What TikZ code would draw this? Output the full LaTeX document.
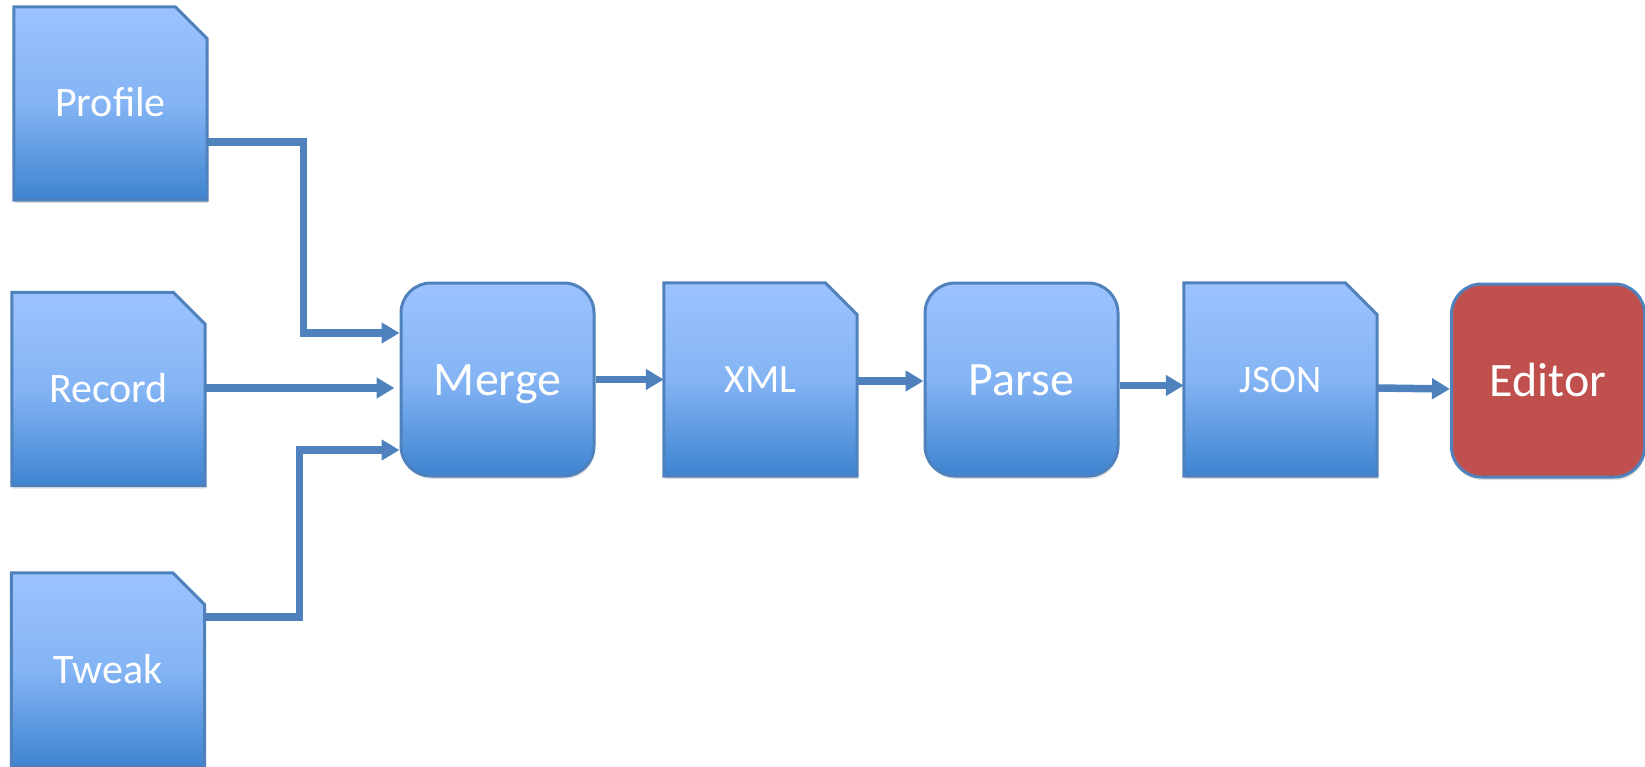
\documentclass[tikz,border=0pt]{standalone}
\usepackage{fontspec}
\setmainfont{Carlito}
\usetikzlibrary{arrows.meta,shadows,backgrounds}
\definecolor{lineblue}{HTML}{4F81BD}
\definecolor{topblue}{HTML}{9CC3FF}
\definecolor{midblue}{HTML}{84B4F4}
\definecolor{botblue}{HTML}{3E84D0}
\definecolor{editorred}{HTML}{C0504D}
\tikzset{
  shapeline/.style={draw=lineblue, line width=3pt,
    drop shadow={shadow xshift=1pt, shadow yshift=-3pt, opacity=0.12, fill=black}},
  bluefill/.style={top color=topblue, bottom color=botblue, middle color=midblue},
  docnode/.style={minimum width=193pt, minimum height=193pt, inner sep=0pt, text=white,
    font=\fontsize{42}{50}\selectfont, text height=27pt, text depth=0pt},
  docfill/.style={shapeline, bluefill},
  procbox/.style={minimum width=193pt, minimum height=193pt, inner sep=0pt, text=white,
    shapeline, rounded corners=30pt, font=\fontsize{48}{56}\selectfont,
    text height=31pt, text depth=0pt},
  flow/.style={draw=lineblue, line width=7.5pt, -{Triangle[length=18pt,width=20pt]}}
}
\newcommand\docshape[1]{%
  \path[docfill] (#1.north west) -- ([xshift=-32pt]#1.north east)
    -- ([yshift=-32pt]#1.north east) -- (#1.south east) -- (#1.south west) -- cycle;}
\begin{document}
\begin{tikzpicture}[x=1pt,y=-1pt]
\useasboundingbox (0,0) rectangle (1645,767);
\node[docnode] (profile) at (110.5,103.5) {Profile};
\node[docnode] (record) at (108.5,389) {Record};
\node[docnode] (tweak) at (108,669.5) {Tweak};
\node[procbox, bluefill] (merge) at (497.5,379.5) {Merge};
\node[docnode, font=\fontsize{40}{48}\selectfont, text height=25.7pt] (xml) at (760.5,379.5) {XML};
\node[procbox, bluefill] (parse) at (1021.5,379.5) {Parse};
\node[docnode, font=\fontsize{39}{47}\selectfont, text height=25pt] (json) at (1280.5,379.5) {JSON};
\node[procbox, fill=editorred] (editor) at (1548,380.5) {Editor};
\begin{pgfonlayer}{background}
\docshape{profile}
\docshape{record}
\docshape{tweak}
\docshape{xml}
\docshape{json}
\end{pgfonlayer}

\draw[flow] ([yshift=-38.5pt]profile.east) -| ([xshift=-96pt,yshift=46.5pt]merge.west) -- ([yshift=46.5pt]merge.west);
\draw[flow, shorten >=5pt] ([yshift=1pt]record.east) -- ([yshift=1pt]record.east -| merge.west);
\draw[flow] ([yshift=52.5pt]tweak.east) -| ([xshift=-100pt,yshift=-70.5pt]merge.west) -- ([yshift=-70.5pt]merge.west);
\draw[flow] (merge.east) -- (xml.west);
\draw[flow] ([yshift=-1.5pt]xml.east) -- ([yshift=-1.5pt]parse.west);
\draw[flow] ([yshift=-6pt]parse.east) -- ([yshift=-6pt]json.west);
\draw[flow] ([yshift=-8.5pt]json.east) -- ([yshift=-8.5pt]editor.west);
\end{tikzpicture}
\end{document}
